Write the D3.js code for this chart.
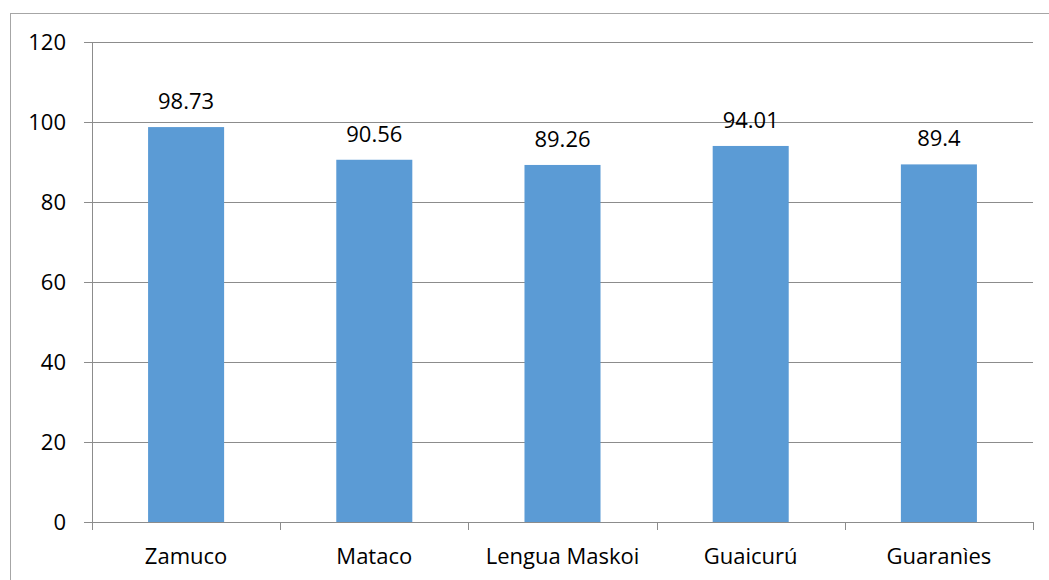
<!DOCTYPE html>
<html><head><meta charset="utf-8">
<script src="https://cdn.jsdelivr.net/npm/d3@7"></script>
<style>html,body{margin:0;padding:0;background:#fff;}svg{display:block;}</style>
</head><body>
<svg id="c" width="1049" height="580"></svg>
<script>
const categories = ["Zamuco", "Mataco", "Lengua Maskoi", "Guaicurú", "Guaranìes"];
const values = [98.73, 90.56, 89.26, 94.01, 89.4];
const valueLabels = ["98.73", "90.56", "89.26", "94.01", "89.4"];
const yTicks = [0, 20, 40, 60, 80, 100, 120];

const svg = d3.select("#c");
const font = "'Open Sans', sans-serif";
const fs = 22;
const L = 92, R = 1033, T = 42, B = 522;

svg.append("rect").attr("x", 10.5).attr("y", 13.5).attr("width", 1100).attr("height", 1000)
  .attr("fill", "none").attr("stroke", "#a6a6a6").attr("stroke-width", 1);

const x = d3.scaleBand().domain(categories).range([L, R]).padding(0);
const y = d3.scaleLinear().domain([0, 120]).range([B, T]);

// gridlines
svg.append("g").selectAll("line").data(yTicks).join("line")
  .attr("x1", L - 8).attr("x2", R)
  .attr("y1", d => Math.round(y(d)) + 0.5).attr("y2", d => Math.round(y(d)) + 0.5)
  .attr("stroke", "#8c8c8c").attr("stroke-width", 1);

// y axis line
svg.append("line").attr("x1", L + 0.5).attr("x2", L + 0.5).attr("y1", T).attr("y2", B + 8)
  .attr("stroke", "#8c8c8c");

// y tick labels
svg.append("g").selectAll("text").data(yTicks).join("text")
  .attr("x", 66).attr("y", d => y(d)).attr("dy", "0.36em")
  .attr("text-anchor", "end").attr("font-family", font).attr("font-size", fs).attr("fill", "#000")
  .text(d => d);

// x category boundary ticks
const bounds = categories.map(c => x(c)).concat([R]);
svg.append("g").selectAll("line").data(bounds).join("line")
  .attr("x1", d => Math.round(d) + 0.5).attr("x2", d => Math.round(d) + 0.5)
  .attr("y1", B).attr("y2", B + 8).attr("stroke", "#8c8c8c");

// bars
const bw = x.bandwidth() * 0.404;
svg.append("g").selectAll("rect").data(values).join("rect")
  .attr("x", (d, i) => x(categories[i]) + (x.bandwidth() - bw) / 2)
  .attr("width", bw)
  .attr("y", d => y(d)).attr("height", d => B - y(d))
  .attr("fill", "#5b9bd5");

// value labels
svg.append("g").selectAll("text").data(values).join("text")
  .attr("x", (d, i) => x(categories[i]) + x.bandwidth() / 2)
  .attr("y", d => y(d) - 18)
  .attr("text-anchor", "middle").attr("font-family", font).attr("font-size", fs).attr("fill", "#000")
  .text((d, i) => valueLabels[i]);

// category labels
svg.append("g").selectAll("text").data(categories).join("text")
  .attr("x", d => x(d) + x.bandwidth() / 2).attr("y", 564)
  .attr("text-anchor", "middle").attr("font-family", font).attr("font-size", fs).attr("fill", "#000")
  .text(d => d);
</script>
</body></html>
